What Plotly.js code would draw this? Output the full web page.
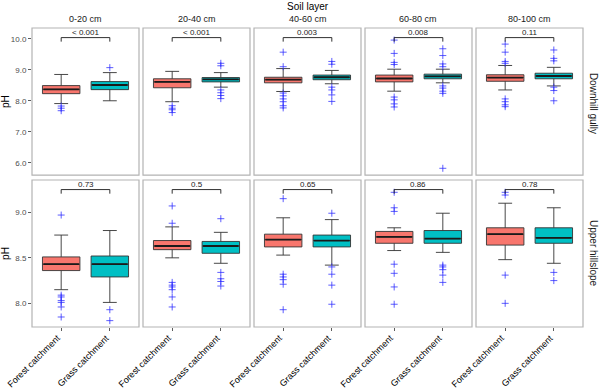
<!DOCTYPE html>
<html>
<head>
<meta charset="utf-8">
<script src="https://cdn.plot.ly/plotly-3.0.1.min.js"></script>
<style>html,body{margin:0;padding:0;background:#fff}#chart{width:600px;height:390px}</style>
</head>
<body>
<div id="chart"></div>
<script>
// ---------- data ----------
const layers = ['0-20 cm', '20-40 cm', '40-60 cm', '60-80 cm', '80-100 cm'];
const positions = ['Downhill gully', 'Upper hillslope'];
const catchments = ['Forest catchment', 'Grass catchment'];
const pValues = [
  ['< 0.001', '< 0.001', '0.003', '0.008', '0.11'],
  ['0.73', '0.5', '0.65', '0.86', '0.78']
];
// box statistics: [row][layer]
const forestLower  = [[7.91, 7.97, 8.30, 8.31, 8.35], [8.15, 8.50, 8.53, 8.58, 8.48]];
const forestQ1     = [[8.23, 8.42, 8.58, 8.61, 8.63], [8.36, 8.59, 8.62, 8.66, 8.64]];
const forestMedian = [[8.37, 8.61, 8.68, 8.72, 8.75], [8.43, 8.63, 8.70, 8.73, 8.76]];
const forestQ3     = [[8.49, 8.71, 8.76, 8.83, 8.84], [8.51, 8.69, 8.76, 8.79, 8.83]];
const forestUpper  = [[8.85, 8.95, 9.04, 9.02, 9.14], [8.75, 8.84, 8.94, 8.83, 9.10]];
const grassLower   = [[8.00, 8.44, 8.55, 8.58, 8.48], [8.01, 8.44, 8.42, 8.56, 8.44]];
const grassQ1      = [[8.36, 8.61, 8.68, 8.71, 8.71], [8.29, 8.55, 8.62, 8.66, 8.66]];
const grassMedian  = [[8.51, 8.69, 8.76, 8.79, 8.80], [8.43, 8.63, 8.69, 8.71, 8.72]];
const grassQ3      = [[8.62, 8.75, 8.83, 8.86, 8.89], [8.52, 8.68, 8.75, 8.80, 8.83]];
const grassUpper   = [[8.91, 8.91, 8.98, 9.02, 9.08], [8.80, 8.78, 8.92, 8.99, 9.05]];
const forestOutliers = [
  [[7.83, 7.76, 7.68],
   [7.84, 7.76, 7.71, 7.62],
   [9.57, 9.10, 8.25, 8.16, 8.06, 7.97, 7.84, 7.77],
   [9.96, 9.53, 9.24, 9.17, 8.12, 8.03, 7.90, 7.80],
   [9.83, 9.57, 9.27, 9.21, 8.06, 7.97, 7.87, 7.81]],
  [[8.97, 8.09, 8.07, 8.03, 8.01, 7.96, 7.85],
   [9.07, 8.88, 8.23, 8.20, 8.18, 8.15, 8.07, 7.96],
   [9.15, 8.32, 8.29, 8.26, 8.21, 7.93],
   [9.22, 9.05, 9.01, 8.43, 8.33, 8.18, 7.99],
   [9.22, 9.19, 8.31, 8.00]]
];
const grassOutliers = [
  [[9.07],
   [9.21, 9.13, 8.35, 8.26, 8.17, 8.07],
   [9.27, 9.18, 8.44, 8.35, 8.19, 7.98],
   [9.68, 9.46, 9.19, 9.10, 8.48, 8.41, 8.31, 8.24, 5.82],
   [9.64, 9.37, 9.29, 8.44, 8.33, 8.00]],
  [[7.93, 7.81],
   [8.93, 8.34, 8.27, 8.24, 8.19],
   [8.99, 8.40, 8.32, 8.20, 7.99],
   [8.42, 8.40, 8.37, 8.31, 8.23],
   [8.34, 8.25]]
];
const yTicks = [[6, 7, 8, 9, 10], [8, 8.5, 9]];

// ---------- styling ----------
const colors = ['#F8766D', '#00BFC4'];
const boxW = 0.77;
const bracketY = [10.04, 9.25];
const bracketDrop = [0.13, 0.045];
const yRanges = [[5.6, 10.35], [7.74, 9.355]];
const font = 'Liberation Sans, Arial, sans-serif';

const stats = [
  {lo: forestLower, q1: forestQ1, med: forestMedian, q3: forestQ3, hi: forestUpper, out: forestOutliers},
  {lo: grassLower, q1: grassQ1, med: grassMedian, q3: grassQ3, hi: grassUpper, out: grassOutliers}
];

const traces = [];
const annotations = [];
const shapes = [];
const layout = {
  width: 600, height: 390,
  margin: {l: 32, r: 17, t: 28, b: 63},
  paper_bgcolor: '#fff', plot_bgcolor: '#fff',
  showlegend: false,
  font: {family: font, color: '#1a1a1a'},
  boxmode: 'overlay'
};

const colW = 107 / 551, colStep = 111 / 551;
const rowDomains = [[0.508, 1], [0, 0.4916]];

for (let r = 0; r < 2; r++) {
  const ya = r === 0 ? 'y' : 'y2';
  layout[r === 0 ? 'yaxis' : 'yaxis2'] = {
    domain: rowDomains[r], range: yRanges[r], anchor: r === 0 ? 'x' : 'x6',
    tickvals: yTicks[r], tickformat: '.1f',
    tickfont: {size: 8, color: '#4d4d4d', family: font},
    ticks: 'outside', ticklen: 3, tickcolor: '#333', tickwidth: 0.8,
    showgrid: false, zeroline: false, showline: false,
    title: {text: 'pH', font: {size: 10, color: '#000', family: font}, standoff: 5}
  };
  for (let c = 0; c < 5; c++) {
    const idx = r * 5 + c + 1;
    const xa = idx === 1 ? 'x' : 'x' + idx;
    const xKey = idx === 1 ? 'xaxis' : 'xaxis' + idx;
    layout[xKey] = {
      domain: [c * colStep, c * colStep + colW], range: [0.4, 2.6], anchor: ya,
      tickvals: [1, 2], showticklabels: false, ticks: r === 1 ? 'outside' : '',
      ticklen: 3, tickcolor: '#333', tickwidth: 0.8,
      showgrid: false, zeroline: false, showline: false
    };
    shapes.push({type: 'rect', xref: xa + ' domain', yref: ya + ' domain',
      x0: 0, x1: 1, y0: 0, y1: 1, line: {color: '#b3b3b3', width: 1.2}, layer: 'above'});

    for (let k = 0; k < 2; k++) {
      const s = stats[k];
      traces.push({
        type: 'box', xaxis: xa, yaxis: ya, x: [k + 1],
        q1: [s.q1[r][c]], median: [s.med[r][c]], q3: [s.q3[r][c]],
        lowerfence: [s.lo[r][c]], upperfence: [s.hi[r][c]],
        width: boxW, whiskerwidth: 0.37, boxpoints: false,
        fillcolor: colors[k], line: {color: '#333', width: 0.9},
        hoverinfo: 'skip', name: catchments[k]
      });
      traces.push({
        type: 'scatter', mode: 'lines', xaxis: xa, yaxis: ya,
        x: [k + 1 - boxW / 2 + 0.02, k + 1 + boxW / 2 - 0.02],
        y: [s.med[r][c], s.med[r][c]],
        line: {color: '#1a1a1a', width: 1.8}, hoverinfo: 'skip'
      });
      const pts = s.out[r][c];
      traces.push({
        type: 'scatter', mode: 'markers', xaxis: xa, yaxis: ya,
        x: pts.map(() => k + 1), y: pts,
        marker: {symbol: 'cross-thin', size: 5, line: {color: 'rgba(40,40,255,0.75)', width: 1}},
        hoverinfo: 'skip'
      });
      if (r === 1) {
        annotations.push({
          xref: xa, yref: ya + ' domain', x: k + 1, y: 0, xanchor: 'right', yanchor: 'top',
          xshift: 4, yshift: -3, textangle: -45, text: catchments[k], showarrow: false,
          font: {size: 9, color: '#000', family: font}
        });
      }
    }
    const b = bracketY[r], d = bracketDrop[r];
    traces.push({
      type: 'scatter', mode: 'lines', xaxis: xa, yaxis: ya,
      x: [1, 1, 2, 2], y: [b - d, b, b, b - d],
      line: {color: '#1a1a1a', width: 0.9}, hoverinfo: 'skip'
    });
    annotations.push({
      xref: xa, yref: ya, x: 1.5, y: b, yanchor: 'bottom', xanchor: 'center',
      text: pValues[r][c], showarrow: false, yshift: -1,
      font: {size: 8, color: '#1a1a1a', family: font}
    });
    if (r === 0) {
      annotations.push({
        xref: xa + ' domain', yref: 'paper', x: 0.5, y: 1.03, yanchor: 'middle',
        text: layers[c], showarrow: false, font: {size: 9, color: '#1a1a1a', family: font}
      });
    }
  }
  annotations.push({
    xref: 'paper', yref: 'paper', x: 1.019, y: r === 0 ? 0.748 : 0.246,
    xanchor: 'center', yanchor: 'middle', textangle: 90,
    text: positions[r], showarrow: false, font: {size: 10, color: '#1a1a1a', family: font}
  });
}
annotations.push({
  xref: 'paper', yref: 'paper', x: 0.5, y: 1.073, xanchor: 'center', yanchor: 'middle',
  text: 'Soil layer', showarrow: false, font: {size: 10, color: '#000', family: font}
});
layout.annotations = annotations;
layout.shapes = shapes;

Plotly.newPlot('chart', traces, layout, {staticPlot: true, displayModeBar: false});
</script>
</body>
</html>
